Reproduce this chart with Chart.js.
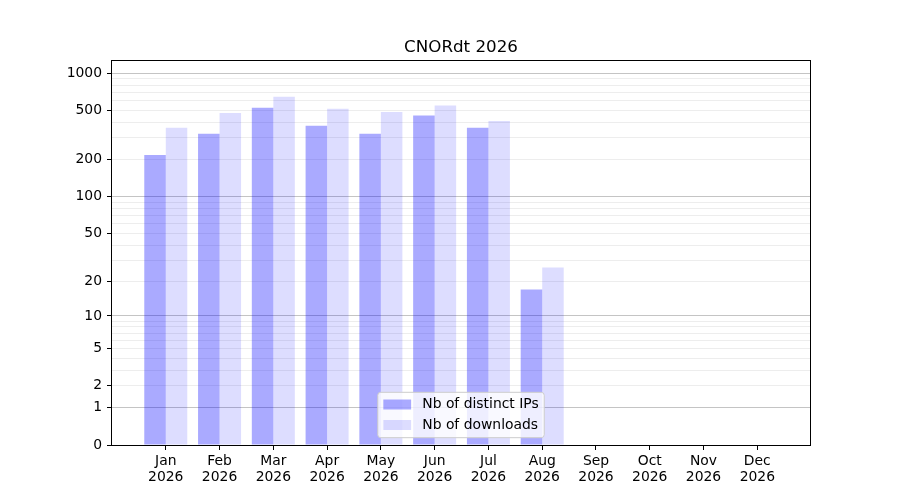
<!DOCTYPE html>
<html>
<head>
<meta charset="utf-8">
<title>CNORdt 2026</title>
<script src="https://cdn.jsdelivr.net/npm/chart.js@4.4.1/dist/chart.umd.min.js"></script>
<style>
  html, body { margin: 0; padding: 0; background: #fff; }
  canvas { display: block; }
</style>
</head>
<body>
<canvas id="graficoCNORdt" width="900" height="500"></canvas>
<script>
  const months = ['Jan', 'Feb', 'Mar', 'Apr', 'May', 'Jun', 'Jul', 'Aug', 'Sep', 'Oct', 'Nov', 'Dec'];
  const yearLabel = '2026';
  const distinctIPs = [218, 324, 524, 375, 323, 454, 361, 17, 0, 0, 0, 0];
  const downloads = [361, 477, 643, 514, 486, 547, 411, 26, 0, 0, 0, 0];
  const yTickLabels = [0, 1, 2, 5, 10, 20, 50, 100, 200, 500, 1000];
  const yMajorGrid = [1, 10, 100, 1000];

  // grid lines at 1..9 of every decade, like a log axis
  const yGridValues = [0];
  [1, 10, 100].forEach(d => {
    for (let k = 1; k <= 9; k++) yGridValues.push(k * d);
  });
  yGridValues.push(1000);

  const fontFamily = '"DejaVu Sans", "Liberation Sans", sans-serif';

  // y axis that places values at log10(1 + v)
  class Log1pScale extends Chart.LinearScale {
    static id = 'log1p';
    static defaults = Chart.LinearScale.defaults;

    buildTicks() {
      return yGridValues.map(v => ({ value: v }));
    }

    configure() {
      super.configure();
      this._lo = Math.log10(1 + this.min);
      this._span = Math.log10(1 + this.max) - this._lo;
    }

    getPixelForValue(value) {
      return this.getPixelForDecimal((Math.log10(1 + value) - this._lo) / this._span);
    }

    getValueForPixel(pixel) {
      return Math.pow(10, this._lo + this.getDecimalForPixel(pixel) * this._span) - 1;
    }
  }
  Chart.register(Log1pScale);

  const axesFrame = {
    id: 'axesFrame',
    afterDatasetsDraw(chart) {
      const { ctx, chartArea: a } = chart;
      ctx.save();
      ctx.strokeStyle = '#000';
      ctx.lineWidth = 1;
      ctx.strokeRect(Math.round(a.left) - 0.5, Math.round(a.top) - 0.5,
        Math.round(a.right - a.left) + 1, Math.round(a.bottom - a.top) + 1);
      ctx.restore();
    }
  };

  const legendBox = {
    id: 'legendBox',
    afterDraw(chart) {
      const { ctx, chartArea: a } = chart;
      const fs = 13.9;
      const pad = 0.4 * fs, handle = 2 * fs, gap = 0.8 * fs;
      const items = chart.data.datasets;
      ctx.save();
      ctx.font = fs + 'px ' + fontFamily;
      const textW = Math.max(...items.map(d => ctx.measureText(d.label).width));
      const w = pad * 2 + handle + gap + textW;
      const h = 45.4;
      const x = (a.left + a.right) / 2 - w / 2;
      const y = a.bottom - 7.3 - h;

      ctx.beginPath();
      ctx.roundRect(x, y, w, h, 3);
      ctx.fillStyle = 'rgba(255,255,255,0.8)';
      ctx.fill();
      ctx.strokeStyle = '#cccccc';
      ctx.lineWidth = 1;
      ctx.stroke();

      items.forEach((d, i) => {
        const cy = y + 12.2 + i * 20.5;
        ctx.fillStyle = d.backgroundColor;
        ctx.fillRect(x + pad, cy - 5, handle, 10);
        ctx.fillStyle = '#000';
        ctx.textBaseline = 'middle';
        ctx.textAlign = 'left';
        ctx.fillText(d.label, x + pad + handle + gap, cy);
      });
      ctx.restore();
    }
  };

  new Chart(document.getElementById('graficoCNORdt'), {
    type: 'bar',
    data: {
      datasets: [{
        label: 'Nb of distinct IPs',
        data: distinctIPs.map((v, i) => ({ x: i, y: v })),
        backgroundColor: 'rgba(0,0,255,0.333)',
        borderWidth: 0
      }, {
        label: 'Nb of downloads',
        data: downloads.map((v, i) => ({ x: i, y: v })),
        backgroundColor: 'rgba(0,0,255,0.133)',
        borderWidth: 0
      }]
    },
    options: {
      responsive: false,
      animation: false,
      categoryPercentage: 0.8,
      barPercentage: 1.0,
      layout: { padding: { left: 0, right: 90, top: 0, bottom: 0 } },
      plugins: {
        legend: { display: false },
        tooltip: { enabled: false },
        title: {
          display: true,
          text: 'CNORdt 2026',
          fullSize: false,
          color: '#000',
          font: { family: fontFamily, size: 16.7, weight: 'normal', lineHeight: 1.2 },
          padding: { top: 37.5, bottom: 3 }
        }
      },
      scales: {
        x: {
          type: 'linear',
          min: -1,
          max: 11.98,
          offset: false,
          afterBuildTicks: scale => {
            scale.ticks = months.map((m, i) => ({ value: i }));
          },
          afterFit: scale => { scale.height = 55; },
          ticks: {
            autoSkip: false,
            maxRotation: 0,
            padding: 3,
            color: '#000',
            font: { family: fontFamily, size: 13.9, lineHeight: 1.15 },
            callback: value => [months[value], yearLabel]
          },
          grid: {
            offset: false,
            drawOnChartArea: false,
            drawTicks: true,
            tickLength: 5,
            tickColor: '#000'
          },
          border: { display: false }
        },
        y: {
          type: 'log1p',
          min: 0,
          max: 1263,
          afterFit: scale => { scale.width = 112; },
          ticks: {
            autoSkip: false,
            padding: 5,
            color: '#000',
            font: { family: fontFamily, size: 13.9 },
            callback: value => yTickLabels.includes(value) ? String(value) : ''
          },
          grid: {
            lineWidth: 1,
            tickLength: 5,
            color: ctx => {
              const v = ctx.tick ? ctx.tick.value : null;
              if (v === 0) return 'rgba(0,0,0,0)';
              return yMajorGrid.includes(v) ? '#c4c4c4' : '#ededed';
            },
            tickColor: ctx => (ctx.tick && yTickLabels.includes(ctx.tick.value)) ? '#000' : 'rgba(0,0,0,0)'
          },
          border: { display: false }
        }
      }
    },
    plugins: [axesFrame, legendBox]
  });
</script>
</body>
</html>
